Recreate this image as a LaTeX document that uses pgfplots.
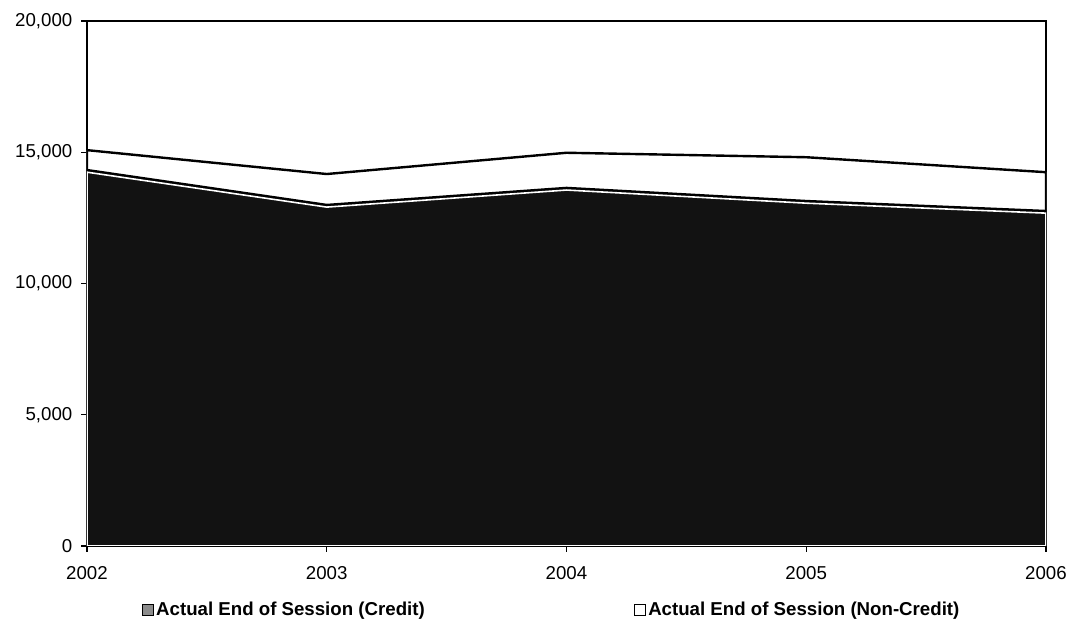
\documentclass[border=0pt]{standalone}
\usepackage{pgfplots}
\pgfplotsset{compat=1.18}
\usepackage{fontspec}
\setmainfont{Liberation Sans}
\begin{document}
\begin{tikzpicture}
\useasboundingbox (-65.25pt,-55.5pt) rectangle (737.25pt,409.5pt);
\begin{axis}[
  at={(0,0)}, anchor=south west,
  scale only axis, width=719.25pt, height=393.75pt,
  xmin=2002, xmax=2006, ymin=0, ymax=20000,
  scaled y ticks=false, scaled x ticks=false,
  xtick={2002,2003,2004,2005,2006},
  xticklabels={2002,2003,2004,2005,2006},
  ytick={0,5000,10000,15000,20000},
  yticklabels={0,{5,000},{10,000},{15,000},{20,000}},
  /pgf/number format/assume math mode=true,
  tick align=outside, xtick pos=bottom, ytick pos=left,
  major tick length=4.5pt,
  tick style={black, line width=0.8pt},
  axis line style={black, line width=1pt},
  tick label style={font=\fontsize{14}{16}\selectfont},
  xticklabel style={yshift=-7pt},
  yticklabel style={xshift=-3pt},
  legend columns=2,
  legend cell align=left,
  legend style={draw=none, fill=none,
    at={(axis description cs:0.0574,-0.1219)}, anchor=west,
    inner sep=0pt, outer sep=0pt,
    font=\bfseries\fontsize{14}{16}\selectfont,
    nodes={inner sep=2pt},
    /tikz/every even column/.append style={column sep=155pt}},
]
% total (credit + non-credit)
\addplot[fill=white, draw=black, line width=1.8pt, forget plot]
  coordinates {(2002,15080) (2003,14170) (2004,14980) (2005,14810) (2006,14240)} \closedcycle;
% credit boundary band
\addplot[draw=black, line width=5pt, forget plot]
  coordinates {(2002,14240) (2003,12910) (2004,13560) (2005,13060) (2006,12680)};
% credit area
\addplot[fill=black!93, draw=white, line width=1.2pt, forget plot]
  coordinates {(2002,14240) (2003,12910) (2004,13560) (2005,13060) (2006,12680)} \closedcycle;

\addlegendimage{legend image code/.code={\draw[fill=black!45,draw=black,line width=0.6pt] (0pt,-4pt) rectangle (8pt,4pt);}}
\addlegendentry{Actual End of Session (Credit)}
\addlegendimage{legend image code/.code={\draw[fill=white,draw=black,line width=0.6pt] (0pt,-4pt) rectangle (8pt,4pt);}}
\addlegendentry{Actual End of Session (Non-Credit)}
\end{axis}
\end{tikzpicture}
\end{document}
